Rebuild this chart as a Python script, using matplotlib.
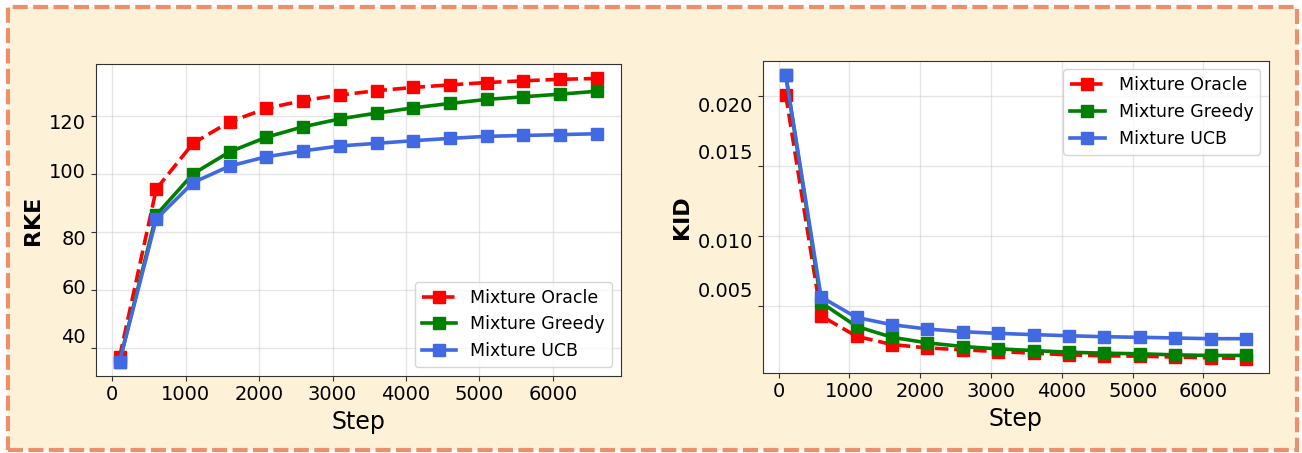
import matplotlib
matplotlib.use('Agg')
import matplotlib.pyplot as plt
from matplotlib.patches import Rectangle
from matplotlib.transforms import ScaledTranslation

steps = [100, 600, 1100, 1600, 2100, 2600, 3100, 3600, 4100, 4600, 5100, 5600, 6100, 6600]

rke_oracle = [37.0, 94.8, 110.5, 117.9, 122.5, 125.2, 127.1, 128.6, 129.7, 130.6, 131.4, 132.0, 132.5, 132.8]
rke_greedy = [35.5, 85.9, 100.0, 107.6, 112.6, 116.2, 118.9, 120.9, 122.7, 124.2, 125.6, 126.5, 127.4, 128.4]
rke_ucb = [35.5, 84.5, 97.0, 102.7, 105.9, 107.9, 109.6, 110.5, 111.4, 112.2, 112.9, 113.2, 113.5, 113.8]

kid_oracle = [0.02012, 0.00429, 0.00283, 0.00224, 0.00200, 0.00186, 0.00174,
              0.00162, 0.00150, 0.00143, 0.00141, 0.00134, 0.00129, 0.00124]
kid_greedy = [0.02154, 0.00524, 0.00354, 0.00276, 0.00236, 0.00210, 0.00193,
              0.00181, 0.00169, 0.00162, 0.00158, 0.00150, 0.00146, 0.00146]
kid_ucb = [0.02154, 0.00564, 0.00418, 0.00366, 0.00335, 0.00316, 0.00304,
           0.00295, 0.00287, 0.00280, 0.00276, 0.00271, 0.00266, 0.00266]

series_names = ['Mixture Oracle', 'Mixture Greedy', 'Mixture UCB']
series_colors = ['red', 'green', 'royalblue']
series_styles = ['--', '-', '-']

rke_ticks = [40, 60, 80, 100, 120]
kid_ticks = [0.005, 0.010, 0.015, 0.020]

# the tick labels in the reference sit a little off their ticks (pixels, + = down)
rke_label_shift = [-13, -4, 5, -3, 6]
kid_label_shift = [-16, 4, -15, 8]

fig = plt.figure(figsize=(13.02, 4.53), dpi=100)
fig.patch.set_facecolor('white')

# cream panel with dashed salmon border
fig.patches.append(Rectangle((0.0061, 0.0066), 0.9901, 0.9779, transform=fig.transFigure,
                             facecolor='#fdf1d7', edgecolor='#ee8f6b', linewidth=3,
                             linestyle=(0, (3.6, 1.3)), zorder=-10))

ax1 = fig.add_axes([95.7 / 1302, 1 - 375.7 / 453, 525 / 1302, 311.4 / 453])
ax2 = fig.add_axes([762.7 / 1302, 1 - 372.7 / 453, 506.3 / 1302, 312 / 453])


def draw_panel(ax, ys, ylabel, ticks, shifts, legend_loc, fmt):
    for y, name, color, ls in zip(ys, series_names, series_colors, series_styles):
        ax.plot(steps, y, linestyle=ls, color=color, marker='s', markersize=8,
                linewidth=2.6, label=name)
    ax.set_xlabel('Step', fontsize=17)
    ax.set_ylabel(ylabel, fontsize=16, fontweight='bold')
    ax.set_yticks(ticks)
    ax.set_yticklabels([fmt.format(t) for t in ticks])
    ax.set_xticks([0, 1000, 2000, 3000, 4000, 5000, 6000])
    ax.tick_params(labelsize=14, colors='#333333', labelcolor='black')
    ax.grid(True, color='#cccccc', alpha=0.5, linewidth=1)
    for sp in ax.spines.values():
        sp.set_color('#333333')
    ax.legend(loc=legend_loc, fontsize=12.5)
    for lab, dy in zip(ax.get_yticklabels(), shifts):
        lab.set_transform(lab.get_transform() + ScaledTranslation(0, -dy / 100, fig.dpi_scale_trans))


draw_panel(ax1, [rke_oracle, rke_greedy, rke_ucb], 'RKE', rke_ticks, rke_label_shift,
           'lower right', '{:.0f}')
draw_panel(ax2, [kid_oracle, kid_greedy, kid_ucb], 'KID', kid_ticks, kid_label_shift,
           'upper right', '{:.3f}')

fig.savefig('out.png', dpi=100)
